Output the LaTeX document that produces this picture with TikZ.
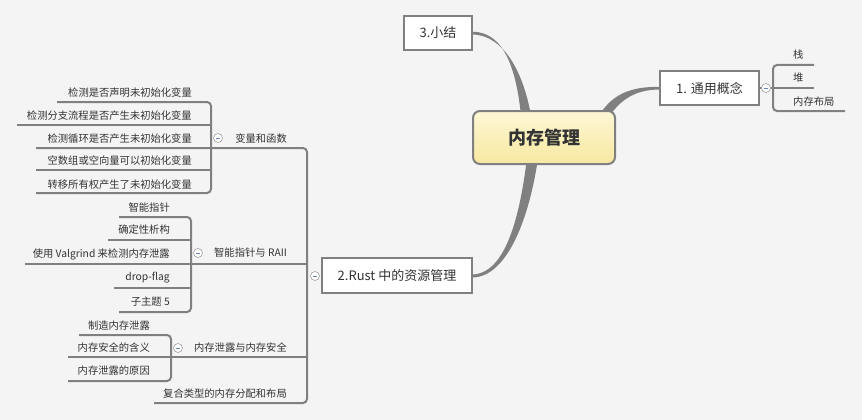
\documentclass[tikz,border=0pt]{standalone}
\usepackage{fontspec}
\setmainfont{Noto Sans CJK SC}
\definecolor{bg}{HTML}{F4F4F4}
\definecolor{ln}{HTML}{808080}
\definecolor{tx}{HTML}{333333}
\definecolor{ytop}{HTML}{FDF7D6}
\definecolor{ybot}{HTML}{F7E8A0}
\definecolor{minuscol}{HTML}{6F80B5}
\begin{document}
\begin{tikzpicture}[x=1pt,y=-1pt,
  branch/.style={draw=ln, line width=2pt, rounded corners=4pt},
  topicbox/.style={draw=ln, line width=2pt, fill=white, text=tx, font=\fontsize{13}{15}\selectfont, inner sep=0pt},
  leaf/.style={text=tx, font=\fontsize{10.3}{12}\selectfont, inner sep=0pt},
  taper/.style={fill=ln, draw=none},
  fold/.style={circle, draw=gray!75, fill=white, line width=0.6pt, minimum size=9pt, inner sep=0pt,
    path picture={\draw[minuscol, line width=0.8pt] ([xshift=-2.3pt]path picture bounding box.center) -- ([xshift=2.3pt]path picture bounding box.center);}},
]
\fill[bg] (0,0) rectangle (862,420);
\useasboundingbox (0,0) rectangle (862,420);

% main topics
\node[topicbox, minimum width=68, minimum height=34] (s3) at (438,33) {3.小结};
\node[topicbox, minimum width=150, minimum height=35] (s2) at (397,275.5) {2.Rust 中的资源管理};
\node[topicbox, minimum width=99, minimum height=34] (s1) at (709.5,88) {1. 通用概念};

% tapered connectors
\fill[taper] (s3.east) ++(0,-1.2) .. controls (506,31.8) and (517,75) .. (521,116) -- (531,116) .. controls (524,74) and (504,34.5) .. (472,34.5) -- cycle;
\fill[taper] (472,274.5) .. controls (506,274) and (520,215) .. (527,158) -- (538,158) .. controls (530,215) and (508,277.5) .. (472,277.5) -- cycle;
\fill[taper] (s1.west) ++(0,-1.2) .. controls (630,86.8) and (612,94) .. (598,117) -- (609,117) .. controls (620,100) and (635,89.5) .. (660,89.5) -- cycle;

% central topic
\node[draw=ln, line width=2pt, rounded corners=7pt, top color=ytop, bottom color=ybot,
  minimum width=142, minimum height=53, inner sep=0pt,
  font=\bfseries\fontsize{18}{20}\selectfont, text=tx] (root) at (544,137.5) {内存管理};

% ---- right group
\coordinate (r1a) at (814,65);
\coordinate (r1c) at (845,111);
\draw[branch] (r1a) -- (773,65) -- (773,111) -- (r1c);
\draw[branch] (s1.east) -- (814,88);
\node[leaf, anchor=west] (k1) at (793,55) {栈};
\node[leaf, anchor=west] (k2) at (793,78) {堆};
\node[leaf, anchor=west] (k3) at (793,102) {内存布局};
\node[fold] (f0) at (766,88) {};

% ---- left trunk
\draw[branch] (36,148) -- (307,148) -- (307,403) -- (154,403);
\draw[branch] (25,264) -- (307,264);
\draw[branch] (68,357) -- (307,357);

% group 1
\draw[branch] (57,102) -- (211,102) -- (211,193) -- (36,193);
\draw[branch] (17,125) -- (211,125);
\draw[branch] (36,170) -- (211,170);
\node[leaf, anchor=east] (a1) at (192,93) {检测是否声明未初始化变量};
\node[leaf, anchor=east] (a2) at (192,116) {检测分支流程是否产生未初始化变量};
\node[leaf, anchor=east] (a3) at (192,139) {检测循环是否产生未初始化变量};
\node[leaf, anchor=east] (a4) at (192,161) {空数组或空向量可以初始化变量};
\node[leaf, anchor=east] (a5) at (192,185) {转移所有权产生了未初始化变量};
\node[leaf, anchor=east] (ga) at (287,139) {变量和函数};
\node[fold] (fa) at (218,138) {};

% group 2
\draw[branch] (119,217) -- (191,217) -- (191,312) -- (119,312);
\draw[branch] (108,240) -- (191,240);
\draw[branch] (114,288) -- (191,288);
\node[leaf, anchor=east] (b1) at (170,208) {智能指针};
\node[leaf, anchor=east] (b2) at (170,230) {确定性析构};
\node[leaf, anchor=east] (b3) at (170,254) {使用 Valgrind 来检测内存泄露};
\node[leaf, anchor=east] (b4) at (170,278) {drop-flag};
\node[leaf, anchor=east] (b5) at (170,302) {子主题 5};
\node[leaf, anchor=east] (gb) at (287,253) {智能指针与 RAII};
\node[fold] (fb) at (198,253) {};

% group 3
\draw[branch] (79,335) -- (171,335) -- (171,381) -- (68,381);
\node[leaf, anchor=east] (c1) at (150,326) {制造内存泄露};
\node[leaf, anchor=east] (c2) at (150,348) {内存安全的含义};
\node[leaf, anchor=east] (c3) at (150,371) {内存泄露的原因};
\node[leaf, anchor=east] (gc) at (287,348) {内存泄露与内存安全};
\node[fold] (fc) at (178,348) {};

% group 4
\node[leaf, anchor=east] (gd) at (287,394) {复合类型的内存分配和布局};

% fold of 2.Rust
\node[fold] (f2) at (315,276) {};
\end{tikzpicture}
\end{document}
